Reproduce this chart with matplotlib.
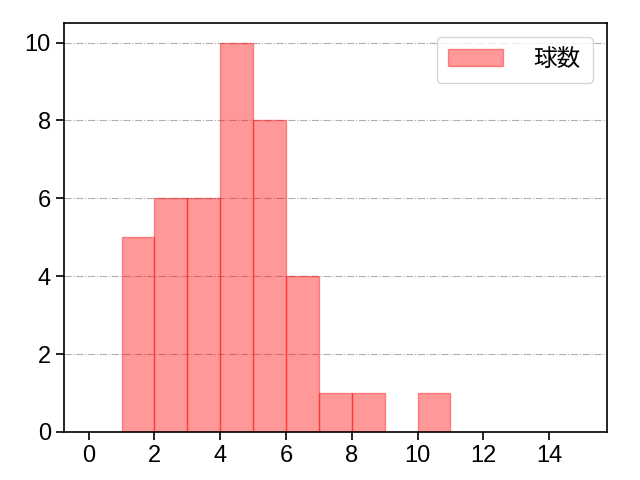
from matplotlib import pyplot as plt
import numpy as np

plt.rcParams['font.family'] = ['Liberation Sans', 'Noto Sans CJK JP']

# bin left edges and counts
bin_left = [0, 1, 2, 3, 4, 5, 6, 7, 8, 9, 10, 11, 12, 13, 14]
counts = [0, 5, 6, 6, 10, 8, 4, 1, 1, 0, 1, 0, 0, 0, 0]

fig = plt.figure(figsize=(6.4, 4.8), dpi=100)
ax = fig.add_axes([0.1, 0.1, 0.848, 0.852])

ax.hist(np.array(bin_left) + 0.5, bins=np.arange(16), weights=counts,
        color="red", alpha=0.4, edgecolor="red", linewidth=1, label="球数", zorder=2)

ax.grid(True, axis="y", linestyle="-.", color="#b0b0b0", linewidth=0.8, zorder=0)
ax.set_axisbelow(True)
for sp in ax.spines.values():
    sp.set_linewidth(1.2)
ax.set_xticks(np.arange(0, 15, 2))
ax.set_yticks(np.arange(0, 11, 2))
ax.tick_params(labelsize=17, width=1.2, length=6)
ax.legend(loc="upper right", fontsize=17, borderpad=0.5, handlelength=2.3,
          handletextpad=1.3, borderaxespad=0.6)

plt.savefig("out.png", dpi=100)
